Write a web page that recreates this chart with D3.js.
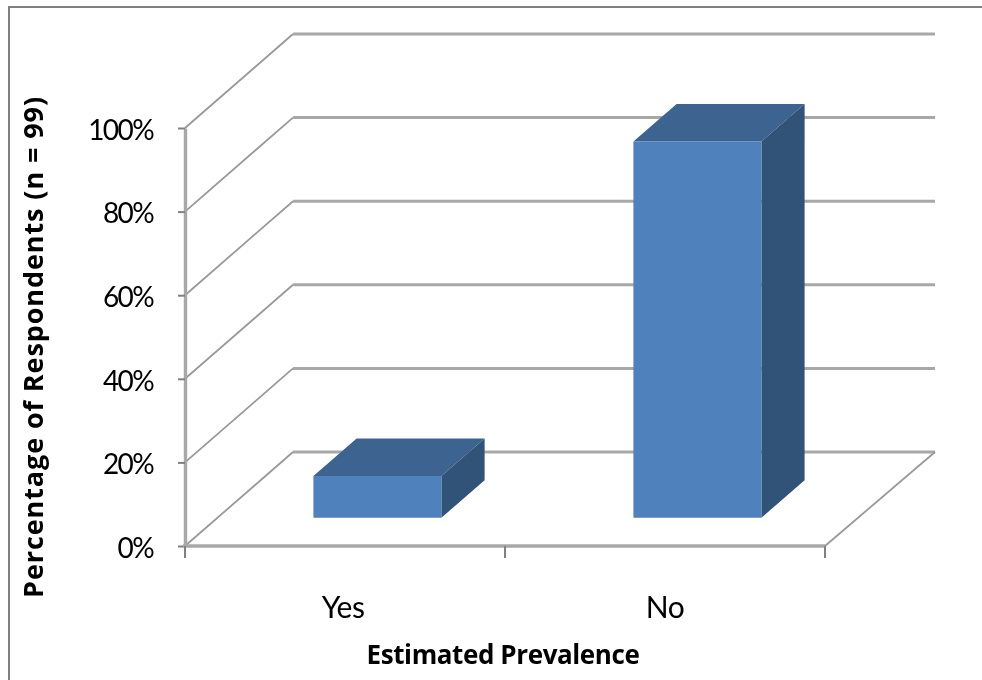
<!DOCTYPE html>
<html>
<head>
<meta charset="utf-8">
<script src="https://cdn.jsdelivr.net/npm/d3@7"></script>
<style>
  html, body { margin: 0; padding: 0; background: #fff; }
  svg { display: block; }
  text { fill: #000; }
  .tick text { font-family: Lato, sans-serif; }
  .title { font-family: "Open Sans", sans-serif; font-weight: 700; }
</style>
</head>
<body>
<svg id="chart" width="982" height="680"></svg>
<script>
// values
const categories = ["Yes", "No"];
const percentages = [10, 90];
const tickValues = [0, 20, 40, 60, 80, 100];
const yTitle = "Percentage of Respondents (n = 99)";
const xTitle = "Estimated Prevalence";

const svg = d3.select("#chart");

const defs = svg.append("defs");
defs.append("filter").attr("id", "soft")
    .append("feGaussianBlur").attr("stdDeviation", 0.6);

const root = svg.append("g").attr("filter", "url(#soft)");

// scales: front plane of the plot, plus a depth scale going back into the wall
const y = d3.scaleLinear().domain([0, 100]).range([546, 128]);
const x = d3.scaleBand().domain(categories).range([185, 825]).paddingInner(0.6).paddingOuter(0.3);
const depthX = d3.scaleLinear().domain([0, 1]).range([0, 108]);
const depthY = d3.scaleLinear().domain([0, 1]).range([0, -94]);

// outer frame, only top and left are visible
root.append("path")
    .attr("d", d3.line()([[984, 7], [9, 7], [9, 684]]))
    .attr("fill", "none").attr("stroke", "#808080").attr("stroke-width", 2);

const left = x.range()[0], right = x.range()[1];

// slanted lines on the side wall
root.selectAll(".slant")
    .data(tickValues)
    .join("line")
    .attr("class", "slant")
    .attr("x1", left).attr("y1", d => y(d))
    .attr("x2", left + depthX(1)).attr("y2", d => y(d) + depthY(1))
    .attr("stroke", "#999").attr("stroke-width", 1.8);

// gridlines on the back wall
root.selectAll(".grid")
    .data(tickValues)
    .join("line")
    .attr("class", "grid")
    .attr("x1", left + depthX(1)).attr("y1", d => y(d) + depthY(1))
    .attr("x2", right + depthX(1) + 2).attr("y2", d => y(d) + depthY(1))
    .attr("stroke", "#a8a8a8").attr("stroke-width", 3);

// floor, right hand edge
root.append("line")
    .attr("x1", right).attr("y1", y(0))
    .attr("x2", right + depthX(1) + 2).attr("y2", y(0) + depthY(1))
    .attr("stroke", "#999").attr("stroke-width", 1.8);

// y axis
const yAxis = root.append("g")
    .attr("transform", "translate(" + left + ",0)")
    .call(d3.axisLeft(y).tickValues(tickValues).tickFormat(d => d + "%").tickSize(7).tickPadding(25).tickSizeOuter(0));
yAxis.select(".domain").attr("stroke", "#a8a8a8").attr("stroke-width", 3.4);
yAxis.selectAll("line").attr("stroke", "#808080").attr("stroke-width", 2);
yAxis.selectAll("text").attr("font-size", 28).attr("letter-spacing", -1.6).attr("dy", "0.4em");

// x axis: line, ticks on the category boundaries, labels on the category centres
root.append("line")
    .attr("x1", left - 2).attr("y1", y(0))
    .attr("x2", right).attr("y2", y(0))
    .attr("stroke", "#a8a8a8").attr("stroke-width", 3.4);

const boundaries = [left].concat(categories.map(c => x(c) + x.step() - x.step() * x.paddingOuter()));
root.selectAll(".xtick")
    .data(boundaries)
    .join("line")
    .attr("class", "xtick")
    .attr("x1", d => d).attr("x2", d => d)
    .attr("y1", y(0)).attr("y2", y(0) + 12)
    .attr("stroke", "#808080").attr("stroke-width", 2);

const xAxis = root.append("g")
    .attr("transform", "translate(0," + y(0) + ")")
    .call(d3.axisBottom(x).tickSize(0).tickPadding(51));
xAxis.select(".domain").remove();
xAxis.selectAll("text").attr("font-size", 30).attr("letter-spacing", -0.5).attr("dx", d => d === "Yes" ? -2 : 0);

// bars: front, top and side faces
const depthNear = 0.3, depthFar = 0.7;
const barBase = 0;

const bars = root.selectAll(".bar")
    .data(categories.map((c, i) => ({ category: c, value: percentages[i] })))
    .join("g")
    .attr("class", "bar");

function corner(d, side, value, depth) {
    const px = x(d.category) + (side ? x.bandwidth() : 0) + depthX(depth);
    const py = y(value) + depthY(depth);
    return [px, py];
}

bars.append("path")
    .attr("fill", "#3e6391")
    .attr("d", d => d3.line()([
        corner(d, 0, d.value, depthNear), corner(d, 0, d.value, depthFar),
        corner(d, 1, d.value, depthFar), corner(d, 1, d.value, depthNear)
    ]) + "Z");

bars.append("path")
    .attr("fill", "#325378")
    .attr("d", d => d3.line()([
        corner(d, 1, barBase, depthNear), corner(d, 1, d.value, depthNear),
        corner(d, 1, d.value, depthFar), corner(d, 1, barBase, depthFar)
    ]) + "Z");

bars.append("path")
    .attr("fill", "#4f81bd")
    .attr("d", d => d3.line()([
        corner(d, 0, barBase, depthNear), corner(d, 0, d.value, depthNear),
        corner(d, 1, d.value, depthNear), corner(d, 1, barBase, depthNear)
    ]) + "Z");

// axis titles
root.append("text")
    .attr("class", "title")
    .attr("transform", "translate(43,347) rotate(-90)")
    .attr("text-anchor", "middle")
    .attr("font-size", 27).attr("letter-spacing", 0.9)
    .text(yTitle);

root.append("text")
    .attr("class", "title")
    .attr("x", 503).attr("y", 664)
    .attr("text-anchor", "middle")
    .attr("font-size", 26).attr("letter-spacing", -0.4)
    .text(xTitle);
</script>
</body>
</html>
